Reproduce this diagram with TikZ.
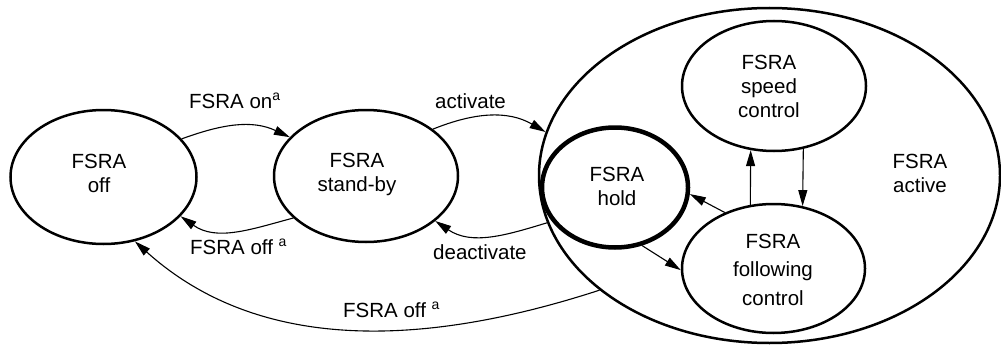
\documentclass[tikz,border=0pt]{standalone}
\usepackage{fontspec}
\setmainfont{Liberation Sans}
\usetikzlibrary{shapes.geometric,arrows.meta}
\newcommand\SupA{\raisebox{7.5pt}{\fontsize{14}{14}\selectfont a}}
\begin{document}
\begin{tikzpicture}[x=1pt,y=-1pt,
  st/.style={draw, ellipse, line width=2.5pt, inner sep=0pt},
  txt/.style={align=center, inner sep=0pt, font=\fontsize{20.5}{24}\selectfont},
  lbl/.style={anchor=base west, inner sep=0pt, font=\fontsize{20.5}{24}\selectfont},
  arr/.style={line width=1.1pt, -{Triangle[length=16pt,width=9pt]}},
]
\useasboundingbox (0,0) rectangle (1001,345);
% states
\node[st, minimum width=186pt, minimum height=134pt] (off) at (103.5,177) {};
\node[txt] (offt) at (99,173) {FSRA\\off};
\node[st, minimum width=184pt, minimum height=132pt] (sb) at (366,176) {};
\node[txt] (sbt) at (357,174) {FSRA\\stand-by};
\node[st, minimum width=461pt, minimum height=335pt] (act) at (769.5,175.5) {};
\node[txt] (actt) at (920,173) {FSRA\\active};
\node[st, line width=4.5pt, minimum width=146pt, minimum height=120pt] (hold) at (615,187.5) {};
\node[txt] (holdt) at (617,186.7) {FSRA\\hold};
\node[st, minimum width=184pt, minimum height=130pt] (sp) at (774,86) {};
\node[txt] (spt) at (769,86) {FSRA\\speed\\control};
\node[st, minimum width=183pt, minimum height=129pt] (fol) at (773.5,268.5) {};
\node[txt, font=\fontsize{20.5}{28.5}\selectfont] (folt) at (773,269.5) {FSRA\\following\\control};
% transitions
\draw[arr] (off.26) to[out=20,in=155] (sb.153);
\draw[arr] (sb.210) to[out=195,in=-35] (off.-27);
\draw[arr] (sb.35) to[out=22,in=150] (act.169);
\draw[arr] (act.192) to[out=197,in=-34] (sb.-33);
\draw[arr] (act.214) to[out=198,in=-42,looseness=0.95] (off.-64);
\draw[arr] (hold.-65) -- (fol.181);
\draw[arr] (fol.131) -- (hold.-5);
\draw[arr] (fol.110) -- (sp.250);
\draw[arr] (sp.-65) -- (fol.65);
% labels
\node[lbl] (lon) at (189,108) {FSRA on\SupA};
\node[lbl] (loffa) at (190,254) {FSRA off \SupA};
\node[lbl] (lact) at (435,108) {activate};
\node[lbl] (ldeact) at (433,259) {deactivate};
\node[lbl] (loffb) at (343,317) {FSRA off \SupA};
\end{tikzpicture}
\end{document}
